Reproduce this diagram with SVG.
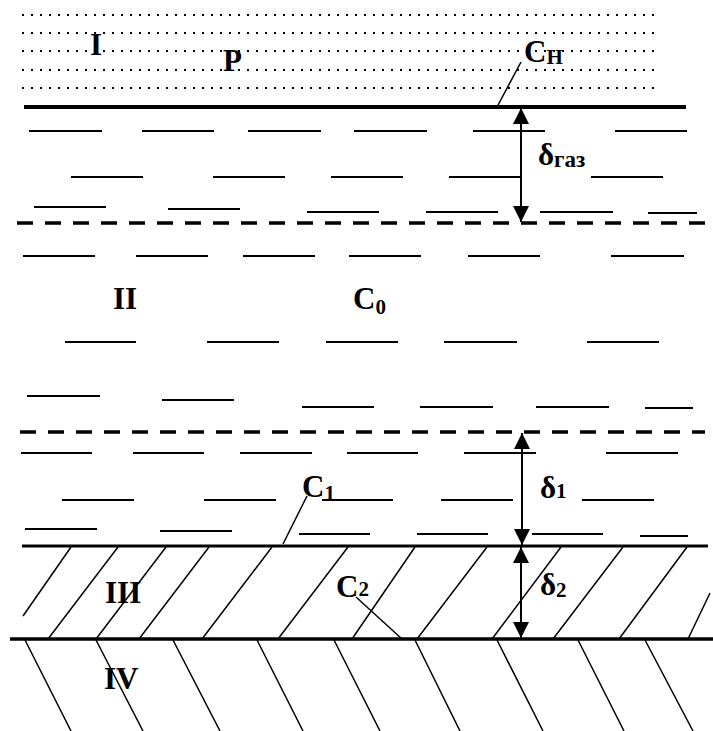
<svg xmlns="http://www.w3.org/2000/svg" width="713" height="731" viewBox="0 0 713 731">
<style>
.dots{stroke:#000;stroke-width:2.2;stroke-dasharray:2 7;fill:none}
.dash{stroke:#000;stroke-width:3.5;stroke-dasharray:16 12;fill:none}
.solid{stroke:#000;fill:none}
.liq{stroke:#000;stroke-width:2;fill:none}
.hatch{stroke:#000;stroke-width:1.5;fill:none}
.lead{stroke:#000;stroke-width:1.5;fill:none}
.arr{stroke:#000;stroke-width:2;fill:none;marker-start:url(#ah);marker-end:url(#ah)}
text{font-family:"Liberation Serif","Times New Roman",serif;font-weight:bold;font-size:31px;fill:#000}
.sub{font-size:21px}
.sub2{font-size:23px}
</style>
<defs>
<marker id="ah" markerUnits="userSpaceOnUse" markerWidth="16" markerHeight="16" viewBox="0 0 16 16" refX="16" refY="8" orient="auto-start-reverse">
<path d="M0,0 L16,8 L0,16 z" fill="#000"/>
</marker>
</defs>
<rect width="713" height="731" fill="#fff"/>

<g id="layer-I">
<line class="dots" x1="22" y1="15" x2="656" y2="15"/>
<line class="dots" x1="22" y1="33" x2="656" y2="33"/>
<line class="dots" x1="22" y1="51" x2="656" y2="51"/>
<line class="dots" x1="22" y1="70" x2="656" y2="70"/>
<line class="dots" x1="22" y1="88" x2="656" y2="88"/>
</g>

<g id="boundaries">
<line class="solid" x1="24" y1="107" x2="686" y2="107" stroke-width="4"/>
<line class="dash" x1="17" y1="223" x2="705" y2="223"/>
<line class="dash" x1="20" y1="432" x2="705" y2="432"/>
<line class="solid" x1="22" y1="546" x2="708" y2="546" stroke-width="3"/>
<line class="solid" x1="10" y1="639" x2="713" y2="639" stroke-width="3.5"/>
</g>

<g id="layer-II">
<path class="liq" d="M29,131H102M142,131H214M248,131H321M354,131H427M473,131H545M615,131H687
M71,177H143M213,177H285M331,177H403M449,177H520M591,177H663
M34,207H106M168,209H240M307,212H379M426,212H498M540,212H613M648,213H697
M23,256H95M136,256H208M243,256H315M349,256H421M468,256H540M611,256H684
M65,342H136M207,342H279M326,342H398M444,342H517M587,342H659
M27,396H100M162,400H234M302,407H374M420,407H493M536,407H609M645,408H693
M21,453H92M133,453H204M240,453H312M347,453H418M464,453H536M606,453H678
M62,500H134M204,500H276M322,500H393M441,500H513M582,500H654
M25,529H97M160,531H232M299,534H370M417,534H488M532,534H603M640,536H688"/>
</g>

<g id="layer-III">
<path class="hatch" d="M23,616L71,547M48,639L118,547M96,639L166,547M139,639L209,547M202,639L272,547M278,639L348,547M352,639L415,547M417,639L487,547M492,639L561,547M553,639L623,547M619,639L687,547M688,639L710,593"/>
</g>

<g id="layer-IV">
<path class="hatch" d="M25,640L71,731M96,640L143,731M173,640L220,731M257,640L303,731M334,640L380,731M415,640L460,731M497,640L543,731M578,640L624,731M645,640L693,731"/>
</g>

<g id="connectors">
<line class="arr" x1="521" y1="108" x2="521" y2="222"/>
<line class="arr" x1="522" y1="433" x2="522" y2="545"/>
<line class="arr" x1="521" y1="547" x2="521" y2="638"/>
<line class="lead" x1="521" y1="62" x2="497" y2="107"/>
<line class="lead" x1="307" y1="496" x2="283" y2="544"/>
<line class="lead" x1="356" y1="597" x2="402" y2="639"/>
</g>

<g id="label-I"><text x="90" y="55">I</text></g>
<g id="label-P"><text x="223" y="71">P</text></g>
<g id="label-CH"><text x="524" y="62">C<tspan class="sub" y="64">Н</tspan></text></g>
<g id="label-dgaz"><text x="538" y="165">δ<tspan class="sub2" y="167">газ</tspan></text></g>
<g id="label-II"><text x="113" y="309">II</text></g>
<g id="label-C0"><text x="353" y="309">C<tspan class="sub" y="314">0</tspan></text></g>
<g id="label-C1"><text x="302" y="497">C<tspan class="sub" y="500">1</tspan></text></g>
<g id="label-d1"><text x="540" y="498">δ<tspan class="sub" y="498">1</tspan></text></g>
<g id="label-III"><text x="105" y="603">III</text></g>
<g id="label-C2"><text x="336" y="597">C<tspan class="sub" y="596">2</tspan></text></g>
<g id="label-d2"><text x="540" y="595">δ<tspan class="sub" y="597">2</tspan></text></g>
<g id="label-IV"><text x="104" y="689">IV</text></g>
</svg>
